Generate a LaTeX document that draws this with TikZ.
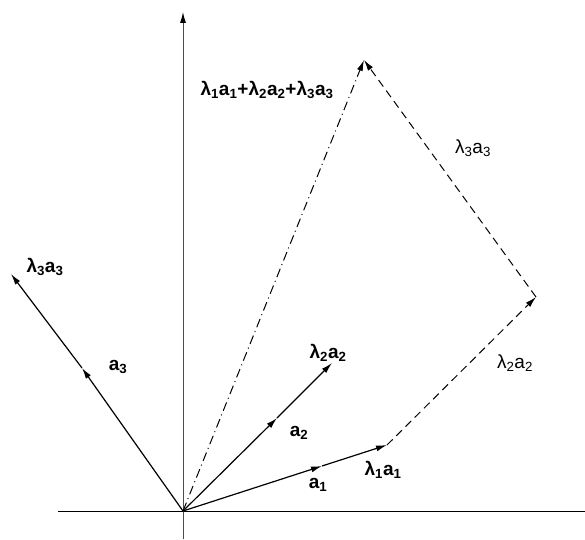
\documentclass[tikz,border=0pt]{standalone}
\usepackage{fontspec}
\setmainfont{Liberation Sans}
\usetikzlibrary{arrows.meta,calc}

\begin{document}
\begin{tikzpicture}[x=1pt, y=1pt,
    vecarrow/.style={line width=1.2pt, -{Latex[length=11pt,width=6pt]}},
    sumline/.style={line width=1pt, dash pattern=on 8pt off 5pt},
    resline/.style={line width=1pt, dash pattern=on 9pt off 4pt on 1pt off 4pt},
    boldlbl/.style={font=\fontsize{19}{22}\selectfont\bfseries, inner sep=0pt},
    thinlbl/.style={font=\fontsize{19}{22}\selectfont, inner sep=0pt}]
    \useasboundingbox (-183,-28) rectangle (402,511);

    % Axes: horizontal black, vertical grey with arrow on top
    \coordinate (O) at (0,0);
    \coordinate (XL) at (-125,0);
    \coordinate (XR) at (402,0);
    \coordinate (YB) at (0,-28);
    \coordinate (YT) at (0,499);
    \draw[line width=0.8pt] (XL) -- (XR);
    \draw[gray!60!black, line width=1pt, -{Latex[length=11pt,width=6pt,black]}] (YB) -- (YT);

    % Unit vectors a_i and scaled vectors lambda_i a_i
    \coordinate (A1) at (139,45);
    \coordinate (L1) at (204,66);
    \coordinate (A2) at (94,93);
    \coordinate (L2) at (149,148);
    \coordinate (A3) at (-101,143);
    \coordinate (L3) at (-172,237);
    \foreach \i in {1,2,3} {
      \draw[vecarrow] (O) -- (A\i);
      \draw[vecarrow] (A\i) -- (L\i);
    }

    % Head-to-tail sum (dashed) and the resulting vector (dash-dot)
    \coordinate (P) at ($(L1)+(L2)$);
    \coordinate (S) at ($(P)+(L3)$);
    \draw[sumline, -{Latex[length=11pt,width=6pt]}] (L1) -- (P);
    \draw[sumline, -{Latex[length=11pt,width=6pt]}] (P) -- (S);
    \draw[resline, -{Latex[length=11pt,width=6pt]}] (O) -- (S);

    % Labels
    \node[boldlbl] (ta1) at (135,26) {a\textsubscript{1}};
    \node[boldlbl] (tl1) at (200,41) {λ\textsubscript{1}a\textsubscript{1}};
    \node[boldlbl] (ta2) at (116,78) {a\textsubscript{2}};
    \node[boldlbl] (tl2) at (145,158) {λ\textsubscript{2}a\textsubscript{2}};
    \node[boldlbl] (ta3) at (-65,144) {a\textsubscript{3}};
    \node[boldlbl] (tl3) at (-138,244) {λ\textsubscript{3}a\textsubscript{3}};
    \node[boldlbl] (tsum) at (84,421) {λ\textsubscript{1}a\textsubscript{1}+λ\textsubscript{2}a\textsubscript{2}+λ\textsubscript{3}a\textsubscript{3}};
    \node[thinlbl] (ts3) at (290,363) {λ\textsubscript{3}a\textsubscript{3}};
    \node[thinlbl] (ts2) at (332,148) {λ\textsubscript{2}a\textsubscript{2}};
\end{tikzpicture}
\end{document}
